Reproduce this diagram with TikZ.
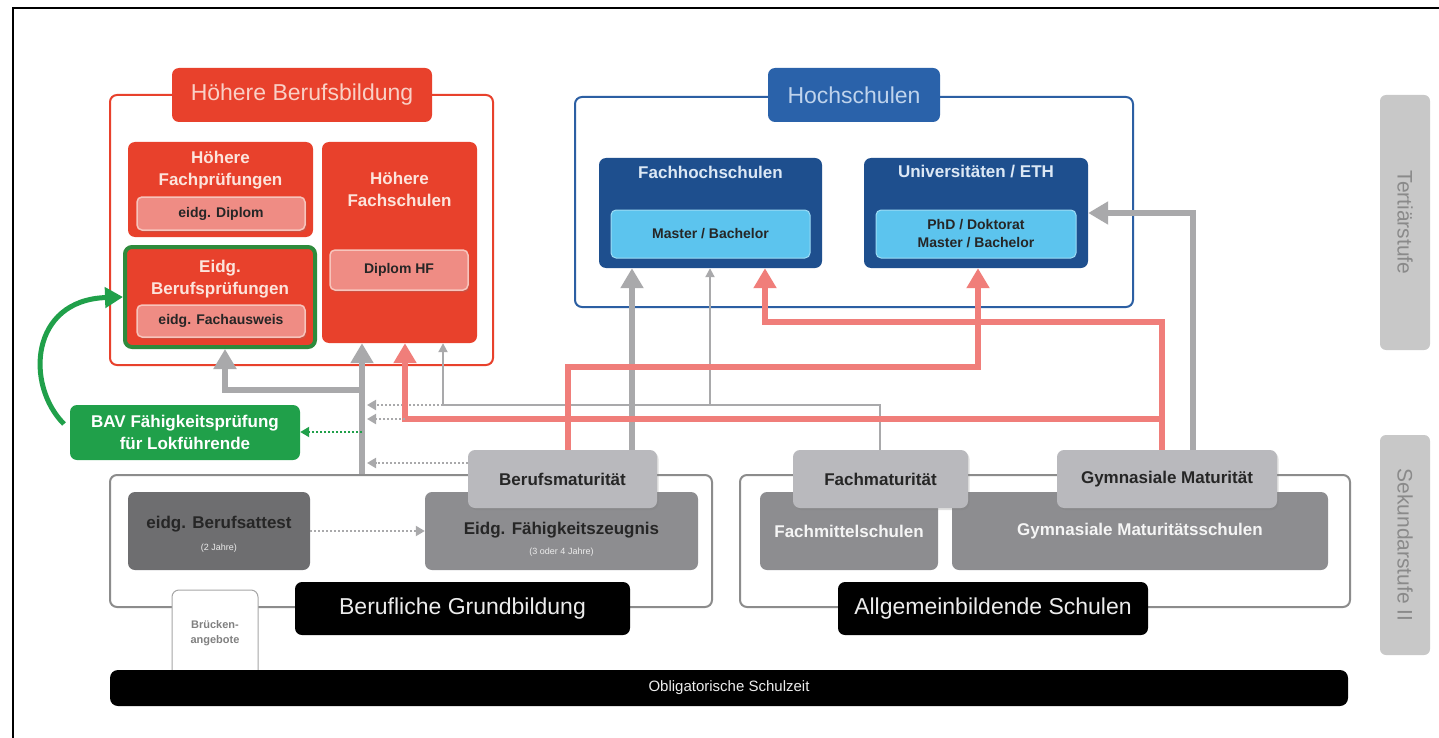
\documentclass[tikz,border=0pt]{standalone}
\usepackage{fontspec}
\setmainfont{Liberation Sans}
\usetikzlibrary{arrows.meta,shadows}
\definecolor{hbred}{HTML}{E8412C}
\definecolor{hbpink}{HTML}{EF8C84}
\definecolor{hbpinkborder}{HTML}{F7C4BC}
\definecolor{hbtxt}{HTML}{FCE4DC}
\definecolor{hbtitletxt}{HTML}{F9D0C6}
\definecolor{salmon}{HTML}{F07E7A}
\definecolor{hsblue}{HTML}{1E4F8E}
\definecolor{hsblueline}{HTML}{2C5FA3}
\definecolor{hstitle}{HTML}{2A62AA}
\definecolor{hslight}{HTML}{5CC4EE}
\definecolor{hstxt}{HTML}{DCE8F5}
\definecolor{hstitletxt}{HTML}{BFD3EC}
\definecolor{arrgray}{HTML}{A9A9AB}
\definecolor{bavgreen}{HTML}{20A04A}
\definecolor{ebpgreen}{HTML}{2E8B3C}
\definecolor{darkbox}{HTML}{6E6E70}
\definecolor{midbox}{HTML}{8D8D90}
\definecolor{matgray}{HTML}{B9B9BD}
\definecolor{outlinegray}{HTML}{8C8C8C}
\definecolor{stufe}{HTML}{C8C8C8}
\definecolor{stufetxt}{HTML}{8A8A8A}
\newcommand\hbTitle{\fontsize{23}{26}\selectfont}
\newcommand\hbHead{\fontsize{17}{22}\selectfont\bfseries}
\newcommand\hbSub{\fontsize{14}{18}\selectfont\bfseries}
\newcommand\hbTiny{\fontsize{9}{11}\selectfont}
\begin{document}
\begin{tikzpicture}[x=1pt,y=-1pt,
  box/.style={rounded corners=7pt, inner sep=0pt, align=center},
  shad/.style={drop shadow={opacity=0.25,shadow xshift=1.5pt,shadow yshift=-2pt}},
  head/.style={inner sep=0pt, align=center, font=\hbHead},
  pinkbox/.style={box, rounded corners=5pt, fill=hbpink, draw=hbpinkborder, line width=1.5pt, font=\hbSub, text=black!85, shad},
  lbbox/.style={box, rounded corners=5pt, fill=hslight, draw=hslight!60!white, line width=1pt, font=\hbSub, text=black!85},
  matbox/.style={box, fill=matgray, font=\hbHead, text=black!85, shad},
  blackbox/.style={box, fill=black, font=\hbTitle, text=white!85!gray},
  gthick/.style={draw=arrgray, line width=6pt, -{Triangle[width=22pt,length=20pt]}},
  rthick/.style={draw=salmon, line width=6.5pt, -{Triangle[width=22pt,length=20pt]}},
  gthin/.style={draw=arrgray, line width=2pt, -{Triangle[width=9pt,length=9pt]}},
  gdot/.style={draw=arrgray, line width=2pt, dash pattern=on 2pt off 2pt, -{Triangle[width=10pt,length=9pt]}},
  grdot/.style={draw=bavgreen, line width=2pt, dash pattern=on 2pt off 2pt, -{Triangle[width=10pt,length=9pt]}},
  stufebox/.style={box, rounded corners=6pt, fill=stufe},
  stufetext/.style={rotate=-90, font=\fontsize{21}{24}\selectfont, text=stufetxt}
]
\useasboundingbox (0,0) rectangle (1439,738);
\fill[white] (0,0) rectangle (1439,738);
\draw[black, line width=1.2pt] (13,738) -- (13,8) -- (1439,8);

% columns and rows
\coordinate (cA) at (225,0);
\coordinate (cB) at (362,0);
\coordinate (cC) at (405,0);
\coordinate (cD) at (443,0);
\coordinate (cE) at (568,0);
\coordinate (cF) at (632,0);
\coordinate (cG) at (710,0);
\coordinate (cH) at (765,0);
\coordinate (cI) at (880,0);
\coordinate (cJ) at (978,0);
\coordinate (cK) at (1162,0);
\coordinate (cL) at (1193,0);
\coordinate (xarr) at (367,0);
\coordinate (r1) at (0,322);
\coordinate (r2) at (0,367);
\coordinate (r3) at (0,390);
\coordinate (r4) at (0,405);
\coordinate (r5) at (0,419);
\coordinate (r6) at (0,432);
\coordinate (r7) at (0,463);
\coordinate (r8) at (0,213);
\coordinate (r9) at (0,452);

% outer boxes
\node[box, draw=hbred, line width=2pt, minimum width=383pt, minimum height=270pt] (hbb) at (301.5,230) {};
\node[box, fill=hbred, minimum width=260pt, minimum height=54pt, font=\hbTitle, text=hbtitletxt] (hbbT) at (302,95) {Höhere Berufsbildung};
\node[box, draw=hsblueline, line width=2pt, minimum width=558pt, minimum height=210pt] (hs) at (854,202) {};
\node[box, fill=hstitle, minimum width=172pt, minimum height=54pt, font=\hbTitle, text=hstitletxt] (hsT) at (854,95) {Hochschulen};

% stufen
\node[stufebox, minimum width=50pt, minimum height=255pt] (ts) at (1405,222.5) {};
\node[stufetext] (tsT) at (ts.center) {Tertiärstufe};
\node[stufebox, minimum width=50pt, minimum height=220pt] (ss) at (1405,545) {};
\node[stufetext] (ssT) at (ss.center) {Sekundarstufe II};

% bottom outlines
\node[box, draw=outlinegray, line width=2pt, minimum width=602pt, minimum height=132pt] (bg) at (411,541) {};
\node[box, draw=outlinegray, line width=2pt, minimum width=610pt, minimum height=132pt] (ab) at (1045,541) {};

% upper inner boxes
\node[box, fill=hbred, minimum width=185pt, minimum height=95pt] (hfp) at (220.5,189.5) {};
\node[head, text=hbtxt] (hfpT) at (220.5,170) {Höhere\\Fachprüfungen};
\node[pinkbox, minimum width=168pt, minimum height=33pt] (dipl) at (221,213.5) {eidg. Diplom};
\node[box, fill=hbred, draw=ebpgreen, line width=4pt, minimum width=190pt, minimum height=100pt] (ebp) at (220,297) {};
\node[head, text=hbtxt] (ebpT) at (220,279) {Eidg.\\Berufsprüfungen};
\node[pinkbox, minimum width=168pt, minimum height=32pt] (fa) at (221,321) {eidg. Fachausweis};
\node[box, fill=hbred, minimum width=155pt, minimum height=201pt] (hfs) at (399.5,242.5) {};
\node[head, text=hbtxt] (hfsT) at (399.5,189) {Höhere\\Fachschulen};
\node[pinkbox, minimum width=138pt, minimum height=40pt] (dhf) at (399,270) {Diplom HF};

\node[box, fill=hsblue, minimum width=223pt, minimum height=110pt] (fh) at (710.5,213) {};
\node[head, text=hstxt] (fhT) at (710.5,172) {Fachhochschulen};
\node[lbbox, minimum width=199pt, minimum height=48pt] (fhin) at (710.5,234) {Master / Bachelor};
\node[box, fill=hsblue, minimum width=224pt, minimum height=110pt] (uni) at (976,213) {};
\node[head, text=hstxt] (uniT) at (976,172) {Universitäten / ETH};
\node[lbbox, minimum width=200pt, minimum height=48pt] (uniin) at (976,234) {PhD / Doktorat\\Master / Bachelor};

% lower boxes
\node[box, fill=darkbox, minimum width=182pt, minimum height=78pt] (att) at (219,531) {};
\node[head, text=black!85] (attT) at (219,524) {eidg. Berufsattest};
\node[font=\hbTiny, text=white!85!gray] (attY) at (219,548) {(2 Jahre)};
\node[box, fill=midbox, minimum width=273pt, minimum height=78pt] (efz) at (561.5,531) {};
\node[head, text=black!85] (efzT) at (561.5,530) {Eidg. Fähigkeitszeugnis};
\node[font=\hbTiny, text=white!85!gray] (efzY) at (561.5,552) {(3 oder 4 Jahre)};
\node[box, fill=midbox, minimum width=178pt, minimum height=78pt, font=\hbHead, text=white!92!gray] (fms) at (849,531) {Fachmittelschulen};
\node[box, fill=midbox, minimum width=376pt, minimum height=78pt, font=\hbHead, text=white!92!gray] (gms) at (1140,531) {Gymnasiale Maturitätsschulen};

% connectors
\draw[gthick] (cF |- r9) -- (cF |- fh.south);
\draw[gthick] (cB |- bg.north) -- (cB |- hfs.south);
\draw[gthick] (cB |- r3) -| (cA |- ebp.south);
\draw[gthin] (cI |- r9) |- (cD |- r4) -- (cD |- hfs.south);
\draw[gthin] (cG |- r4) -- (cG |- fh.south);
\draw[gdot] (cD |- r4) -- (xarr |- r4);
\draw[rthick] (cK |- r9) |- (cH |- r1) -- (cH |- fh.south);
\draw[rthick] (cK |- r5) -| (cC |- hfs.south);
\draw[gdot] (cC |- r5) -- (xarr |- r5);
\draw[rthick] (cE |- r9) |- (cJ |- r2) -- (cJ |- uni.south);
\draw[gthick] (cL |- r9) |- (uni.east |- r8);
\draw[gdot] (att.east) -- (efz.west);

% maturity boxes
\node[matbox, minimum width=189pt, minimum height=58pt] (bm) at (562.5,479) {Berufsmaturität};
\node[matbox, minimum width=175pt, minimum height=58pt] (fm) at (880.5,479) {Fachmaturität};
\node[matbox, minimum width=220pt, minimum height=58pt] (gm) at (1167,479) {Gymnasiale Maturität};
\draw[gdot] (bm.west |- r7) -- (xarr |- r7);

% BAV
\node[box, fill=bavgreen, minimum width=230pt, minimum height=55pt, font=\hbHead, text=white] (bav) at (185,432.5) {BAV Fähigkeitsprüfung\\für Lokführende};
\draw[grdot] (cB |- r6) -- (bav.east |- r6);
\draw[draw=bavgreen, line width=5pt, -{Triangle[width=20pt,length=18pt]}] (64,424) .. controls (25,385) and (30,300) .. (ebp.west);

% Brueckenangebote and labels
\node[box, fill=white, draw=gray!70, line width=1pt, minimum width=86pt, minimum height=93pt] (br) at (215,636.5) {};
\node[font=\fontsize{11}{15}\selectfont\bfseries, text=gray, align=center] (brT) at (215,633) {Brücken-\\angebote};
\node[blackbox, minimum width=335pt, minimum height=53pt] (bgl) at (462.5,608.5) {Berufliche Grundbildung};
\node[blackbox, minimum width=310pt, minimum height=53pt] (abl) at (993,608.5) {Allgemeinbildende Schulen};
\node[box, fill=black, rounded corners=8pt, minimum width=1238pt, minimum height=36pt, font=\fontsize{15}{18}\selectfont, text=white!85!gray] (os) at (729,688) {Obligatorische Schulzeit};
\end{tikzpicture}
\end{document}
